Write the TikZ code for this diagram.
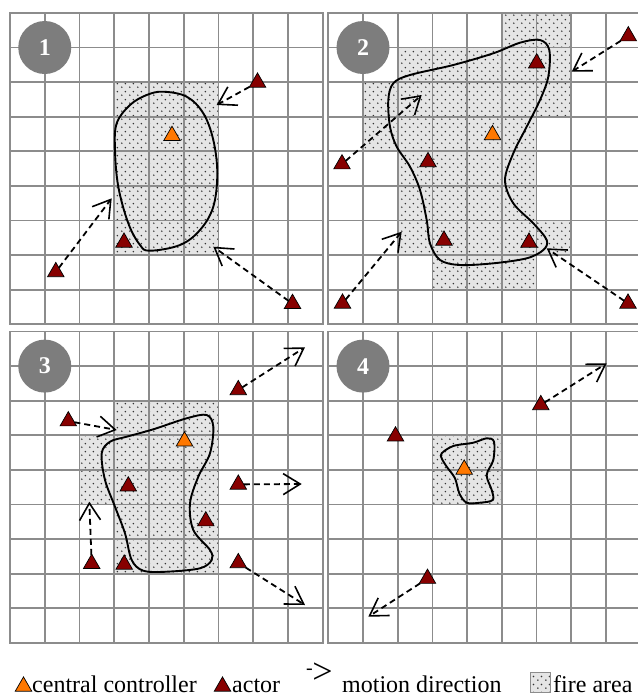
\documentclass[tikz,border=0pt]{standalone}
\usepackage{fontspec}
\setmainfont{Liberation Serif}
\usetikzlibrary{shapes.geometric,arrows.meta,patterns}
\pgfdeclarepatternformonly{firedots}{\pgfpointorigin}{\pgfpoint{8pt}{8pt}}{\pgfpoint{8pt}{8pt}}{%
  \pgfpathcircle{\pgfpoint{2pt}{2pt}}{0.9pt}%
  \pgfpathcircle{\pgfpoint{6pt}{6pt}}{0.9pt}%
  \pgfusepath{fill}%
}
\definecolor{gridgray}{RGB}{140,140,140}
\definecolor{actorred}{RGB}{135,0,0}
\definecolor{ctrlorange}{RGB}{255,120,0}
\definecolor{badgegray}{RGB}{125,125,125}
\begin{document}
\begin{tikzpicture}[x=1pt,y=-1pt,
  gridline/.style={draw=gridgray,line width=1.8pt},
  fire/.style={preaction={fill=black!10},pattern=firedots,pattern color=black!80},
  blob/.style={draw=black,line width=1.9pt},
  tri/.style={regular polygon,regular polygon sides=3,minimum size=19pt,inner sep=0pt,outer sep=0pt,draw=black,line width=0.7pt,yshift=-2.4pt},
  actor/.style={tri,fill=actorred},
  ctrl/.style={tri,fill=ctrlorange},
  motion/.style={draw=black,line width=1.8pt,dash pattern=on 6pt off 4pt,-{Straight Barb[length=17pt,width=21pt,line width=1.6pt]}},
  badge/.style={circle,fill=badgegray,minimum size=53pt,inner sep=0pt,text=white,font=\fontsize{24}{24}\selectfont\bfseries},
  legend/.style={anchor=base west,inner sep=0pt,font=\fontsize{24}{28}\selectfont}]

\useasboundingbox (0,0) rectangle (638,697);
\clip (0,0) rectangle (638,697);
\fill[white] (0,0) rectangle (638,697);

% ---------- panel 1
\begin{scope}[shift={(10,12.9)},x=34.75pt,y=-34.6pt]
  \fill[fire] (3,2) rectangle (6,7);
  \foreach \i in {0,...,9} {\draw[gridline] (\i,0) -- (\i,9); \draw[gridline] (0,\i) -- (9,\i);}
  \draw[gridline,line join=miter] (0,0) rectangle (9,9);
  \node[badge] (n1) at (1,1) {1};
\end{scope}
% ---------- panel 2
\begin{scope}[shift={(328.3,12.9)},x=34.7pt,y=-34.6pt]
  \fill[fire] (5,0) rectangle (7,1) (2,1) rectangle (7,2) (1,2) rectangle (7,3)
              (1,3) rectangle (6,4) (2,4) rectangle (6,6) (2,6) rectangle (7,7)
              (3,7) rectangle (6,8);
  \foreach \i in {0,...,9} {\draw[gridline] (\i,0) -- (\i,9); \draw[gridline] (0,\i) -- (9,\i);}
  \draw[gridline,line join=miter] (0,0) rectangle (9,9);
  \node[badge] (n2) at (1,1) {2};
\end{scope}
% ---------- panel 3
\begin{scope}[shift={(10,331.5)},x=34.75pt,y=-34.6pt]
  \fill[fire] (3,2) rectangle (6,3) (2,3) rectangle (6,5) (3,5) rectangle (6,7);
  \foreach \i in {0,...,9} {\draw[gridline] (\i,0) -- (\i,9); \draw[gridline] (0,\i) -- (9,\i);}
  \draw[gridline,line join=miter] (0,0) rectangle (9,9);
  \node[badge] (n3) at (1,1) {3};
\end{scope}
% ---------- panel 4
\begin{scope}[shift={(328.3,331.5)},x=34.7pt,y=-34.6pt]
  \fill[fire] (3,3) rectangle (5,5);
  \foreach \i in {0,...,9} {\draw[gridline] (\i,0) -- (\i,9); \draw[gridline] (0,\i) -- (9,\i);}
  \draw[gridline,line join=miter] (0,0) rectangle (9,9);
  \node[badge] (n4) at (1,1) {4};
\end{scope}

% ---------- fire boundaries
\draw[blob] plot[smooth cycle,tension=0.6] coordinates {
 (163.3,91.7) (186.7,96.7) (203.3,113.3) (213.3,140) (217.3,173.3) (213.3,206.7)
 (200,230) (180,245) (150,250.7) (140,245) (128.3,223.3) (118.3,186.7)
 (115,150) (116.7,123.3) (130,105) (146.7,95)};
\draw[blob] plot[smooth cycle,tension=0.55] coordinates {
 (388.3,100) (393.3,83.3) (410,75) (453.3,65) (493.3,53.3) (520,42.7) (540,40)
 (549.3,50) (548.3,76.7) (540,100) (526.7,126.7) (513.3,153.3) (505,180)
 (513.3,203.3) (533.3,223.3) (546.7,240) (543.3,250) (526.7,258.3) (493.3,263.3)
 (460,265) (440,260) (430,243.3) (426.7,220) (420,190) (410,166.7) (396.7,146.7) (390,126.7)};
\draw[blob] plot[smooth cycle,tension=0.55] coordinates {
 (101.7,453.3) (110,441.7) (126.7,436.7) (153.3,429.3) (186.7,418.3) (206.7,415)
 (213.3,426.7) (210,453.3) (198.3,476.7) (190,503.3) (193.3,530) (210,550)
 (211.7,560) (200,568.3) (166.7,571.7) (143.3,570.7) (131.7,560) (125,533.3)
 (115,506.7) (105,480)};
\draw[blob] plot[smooth cycle,tension=0.55] coordinates {
 (441.7,453.3) (453.3,446) (473.3,442.7) (486.7,438.3) (494,441.7) (493.3,460)
 (486.7,475) (491.7,490) (492.7,500) (480,502.7) (466.7,502.7) (459.3,493.3)
 (455,478.3) (446.7,466.7) (441.7,458.3)};

% ---------- actors and controllers
\node[actor] (p1a) at (257.5,80) {};
\node[ctrl]  (p1c) at (172,133.3) {};
\node[actor] (p1b) at (124,240) {};
\node[actor] (p1d) at (55.8,269.5) {};
\node[actor] (p1e) at (292.5,301.3) {};

\node[actor] (p2a) at (628.3,33.7) {};
\node[actor] (p2b) at (536.7,60.8) {};
\node[ctrl]  (p2c) at (492.5,132.5) {};
\node[actor] (p2d) at (342,161.7) {};
\node[actor] (p2e) at (428,159.5) {};
\node[actor] (p2f) at (444,238) {};
\node[actor] (p2g) at (529,240) {};
\node[actor] (p2h) at (342.5,301) {};
\node[actor] (p2i) at (628,301) {};

\node[actor] (p3a) at (238.3,387.5) {};
\node[actor] (p3b) at (68.3,418.7) {};
\node[ctrl]  (p3c) at (184.5,438.8) {};
\node[actor] (p3d) at (128.3,483.8) {};
\node[actor] (p3e) at (238.3,482) {};
\node[actor] (p3f) at (205.8,518.7) {};
\node[actor] (p3g) at (91.7,561.3) {};
\node[actor] (p3h) at (124.2,562) {};
\node[actor] (p3i) at (238.3,560.5) {};

\node[actor] (p4a) at (540.8,402.5) {};
\node[actor] (p4b) at (395.5,433.8) {};
\node[ctrl]  (p4c) at (464.2,467) {};
\node[actor] (p4d) at (427.5,576.2) {};

% ---------- motion directions
\coordinate (e1) at (216.7,105);
\coordinate (e2) at (111.7,198.3);
\coordinate (e3) at (213.3,246.7);
\coordinate (e4) at (571.7,71.7);
\coordinate (e5) at (421.7,95);
\coordinate (e6) at (401.7,231.7);
\coordinate (e7) at (546.7,248.3);
\coordinate (e8) at (305,347.3);
\coordinate (e9) at (116.7,430);
\coordinate (e10) at (301.7,484);
\coordinate (e11) at (89.3,501.7);
\coordinate (e12) at (305,605);
\coordinate (e13) at (606.7,363.3);
\coordinate (e14) at (368.3,616.7);
\draw[motion] (p1a) -- (e1);
\draw[motion] (p1d) -- (e2);
\draw[motion] (p1e) -- (e3);
\draw[motion] (p2a) -- (e4);
\draw[motion] (p2d) -- (e5);
\draw[motion] (p2h) -- (e6);
\draw[motion] (p2i) -- (e7);
\draw[motion] (p3a) -- (e8);
\draw[motion] (p3b) -- (e9);
\draw[motion] (p3e) -- (e10);
\draw[motion] (p3g) -- (e11);
\draw[motion] (p3i) -- (e12);
\draw[motion] (p4a) -- (e13);
\draw[motion] (p4d) -- (e14);

% ---------- legend
\node[ctrl]  (lgc) at (23.5,684) {};
\node[legend] (lgct) at (32,692) {central controller};
\node[actor] (lga) at (222.5,684) {};
\node[legend] (lgat) at (232,692) {actor};
\node[legend] (lgm) at (306,683) {\raisebox{0.35em}{\fontsize{20}{20}\selectfont -}\kern-0.5pt{\fontsize{36}{36}\selectfont >}};
\node[legend] (lgmt) at (342,692) {motion direction};
\node[fire,draw=gridgray,line width=1pt,minimum size=20pt,inner sep=0pt] (lgf) at (540,682) {};
\node[legend] (lgft) at (553,692) {fire area};
\end{tikzpicture}
\end{document}
